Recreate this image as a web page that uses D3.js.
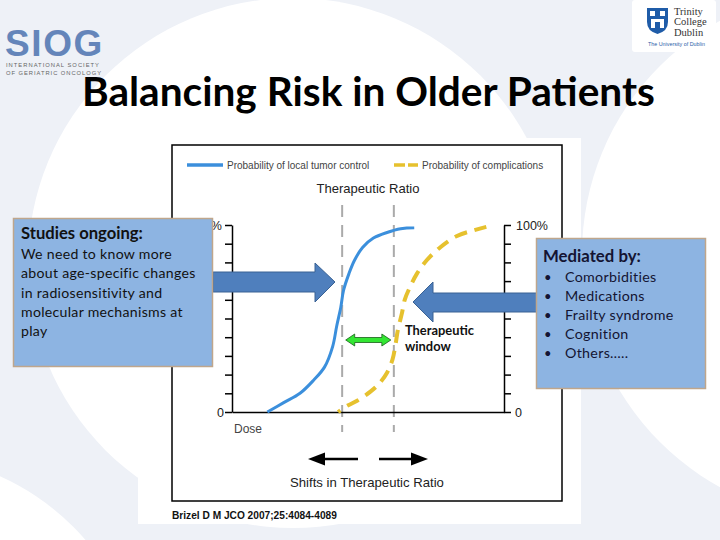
<!DOCTYPE html>
<html lang="en">
<head>
<meta charset="UTF-8">
<title>Balancing Risk in Older Patients</title>
<style>
  body { margin: 0; background: #fff; }
  svg { display: block; }
  .axis path, .axis line { fill: none; stroke: #000; stroke-width: 1.5; }
</style>
</head>
<body>
<script src="https://d3js.org/d3.v7.min.js"></script>
<script>
var W = 720, H = 540;

// dose (relative units 0-100) and probability (%)
var tumorDose = [13, 19, 25, 30, 34, 37, 38.5, 40, 41, 43, 45, 48, 52, 57, 62, 67];
var tumorProb = [0, 5, 10, 17, 24, 35, 46, 56, 65, 74, 81, 88, 93, 96, 98, 98.5];
var compDose = [39, 42, 46, 51, 54, 57, 59, 60, 61, 62.5, 63.5, 65.5, 68, 71.5, 76.5, 82.5, 88.5, 93.5];
var compProb = [0, 3, 6, 11, 15, 21, 28, 35, 44, 53, 60, 67, 74, 81, 88, 94, 97, 99];
var ratioDoses = [40.5, 59.5];
var yTicks = [0, 10, 20, 30, 40, 50, 60, 70, 80, 90, 100];
var seriesNames = ['Probability of local tumor control', 'Probability of complications'];
var leftTitle = 'Studies ongoing:';
var leftLines = ['We need to know more', 'about age-specific changes', 'in radiosensitivity and', 'molecular mechanisms at', 'play'];
var rightTitle = 'Mediated by:';
var rightItems = ['Comorbidities', 'Medications', 'Frailty syndrome', 'Cognition', 'Others\u2026..'];

var svg = d3.select('body').append('svg').attr('width', W).attr('height', H);

// fit a text element to a width by scaling its font size
function fit(sel, w) {
  var len = sel.node().getComputedTextLength();
  var fs = parseFloat(sel.attr('font-size'));
  sel.attr('font-size', fs * w / len);
  return fs * w / len;
}
// fit a text element to a width with letter spacing, keeping its size
function spread(sel, w) {
  var len = sel.node().getComputedTextLength();
  sel.attr('letter-spacing', (w - len) / sel.text().length);
}

// background swooshes
svg.append('rect').attr('width', W).attr('height', H).attr('fill', '#eef1f7');
svg.append('circle').attr('cx', 293).attr('cy', 263).attr('r', 265).attr('fill', '#fff');
svg.append('circle').attr('cx', 848).attr('cy', 254).attr('r', 266).attr('fill', '#fff');
svg.append('circle').attr('cx', -100).attr('cy', 700).attr('r', 245).attr('fill', '#fff');

// SIOG logo
var sg = svg.append('text').attr('x', 5).attr('y', 56).attr('font-family', 'Liberation Sans, Arial').attr('font-weight', 'bold')
  .attr('font-size', 37).attr('fill', '#6485ba').text('SIOG');
spread(sg, 99);
var s1 = svg.append('text').attr('x', 6).attr('y', 66.5).attr('font-family', 'Liberation Sans, Arial')
  .attr('font-size', 5.8).attr('fill', '#666').text('INTERNATIONAL SOCIETY');
spread(s1, 94);
var s2 = svg.append('text').attr('x', 6).attr('y', 74.5).attr('font-family', 'Liberation Sans, Arial')
  .attr('font-size', 5.8).attr('fill', '#666').text('OF GERIATRIC ONCOLOGY');
spread(s2, 96);

// Trinity logo
svg.append('rect').attr('x', 632).attr('y', 0).attr('width', 84).attr('height', 52).attr('rx', 3).attr('fill', '#fff');
svg.append('path').attr('d', 'M647,8 h21 v14 q0,9 -10.5,12 q-10.5,-3 -10.5,-12 z').attr('fill', '#1f5ca8');
svg.append('rect').attr('x', 651).attr('y', 19).attr('width', 13).attr('height', 9).attr('fill', '#fff');
svg.append('rect').attr('x', 655).attr('y', 22).attr('width', 5).attr('height', 6).attr('fill', '#1f5ca8');
svg.append('path').attr('d', 'M650,11 h5 v5 h-5 z M660,11 h5 v5 h-5 z').attr('fill', '#fff');
['Trinity', 'College', 'Dublin'].forEach(function (t, i) {
  svg.append('text').attr('x', 674).attr('y', 15 + i * 10.3).attr('font-family', 'Liberation Serif, serif')
    .attr('font-size', 10.5).attr('fill', '#333').text(t);
});
var tu = svg.append('text').attr('x', 648).attr('y', 46).attr('font-family', 'Liberation Sans, Arial')
  .attr('font-size', 5).attr('fill', '#2a5da8').text('The University of Dublin');
fit(tu, 57);

// title
var title = svg.append('text').attr('x', 82).attr('y', 106).attr('font-family', 'Lato, Open Sans, sans-serif')
  .attr('font-weight', 'bold').attr('font-size', 40).attr('fill', '#000').text('Balancing Risk in Older Patients');
fit(title, 573);

// chart panel
svg.append('rect').attr('x', 138).attr('y', 138).attr('width', 443).attr('height', 386).attr('fill', '#fff');
svg.append('rect').attr('x', 172).attr('y', 145).attr('width', 390).attr('height', 356)
  .attr('fill', 'none').attr('stroke', '#000').attr('stroke-width', 1.5);

var x = d3.scaleLinear().domain([0, 100]).range([232, 504]);
var y = d3.scaleLinear().domain([0, 100]).range([412, 225]);

var ARIAL = 'Liberation Sans, Arial, sans-serif';

// legend
svg.append('line').attr('x1', 187).attr('x2', 223).attr('y1', 165).attr('y2', 165)
  .attr('stroke', '#3b8fdc').attr('stroke-width', 3.5);
svg.append('text').attr('x', 227).attr('y', 169).attr('font-family', ARIAL).attr('font-size', 10)
  .attr('fill', '#444').text(seriesNames[0]);
svg.append('line').attr('x1', 394).attr('x2', 418).attr('y1', 165).attr('y2', 165)
  .attr('stroke', '#e6c12e').attr('stroke-width', 3.5).attr('stroke-dasharray', '11,3');
svg.append('text').attr('x', 422).attr('y', 169).attr('font-family', ARIAL).attr('font-size', 10)
  .attr('fill', '#444').text(seriesNames[1]);

var tr = svg.append('text').attr('x', 368).attr('y', 193).attr('text-anchor', 'middle').attr('font-family', ARIAL)
  .attr('font-size', 12.5).attr('fill', '#222').text('Therapeutic Ratio');
fit(tr, 103);

// dashed therapeutic-ratio markers
svg.selectAll('.ratio').data(ratioDoses).enter().append('line').attr('class', 'ratio')
  .attr('x1', function (d) { return x(d); }).attr('x2', function (d) { return x(d); })
  .attr('y1', 205).attr('y2', 432)
  .attr('stroke', '#aaa').attr('stroke-width', 2).attr('stroke-dasharray', '12,8');

// axes
svg.append('g').attr('class', 'axis').attr('transform', 'translate(' + x(0) + ',0)')
  .call(d3.axisLeft(y).tickValues(yTicks).tickSize(7).tickSizeOuter(0).tickFormat(''));
svg.append('g').attr('class', 'axis').attr('transform', 'translate(' + x(100) + ',0)')
  .call(d3.axisRight(y).tickValues(yTicks).tickSize(7).tickSizeOuter(0).tickFormat(''));
svg.append('g').attr('class', 'axis').attr('transform', 'translate(0,' + y(0) + ')')
  .call(d3.axisBottom(x).tickValues([]).tickSizeOuter(0));

function lab(xp, yp, t, anchor) {
  svg.append('text').attr('x', xp).attr('y', yp).attr('text-anchor', anchor || 'start')
    .attr('font-family', ARIAL).attr('font-size', 12.5).attr('fill', '#222').text(t);
}
lab(x(0) - 8, y(0) + 5, '0', 'end');
lab(x(0) - 10, y(100) + 5, '100%', 'end');
lab(x(100) + 11, y(0) + 5, '0');
lab(x(100) + 12, y(100) + 5, '100%');
svg.append('text').attr('x', 234).attr('y', 433).attr('font-family', ARIAL).attr('font-size', 12)
  .attr('fill', '#444').text('Dose');

// curves
var line = d3.line().x(function (d) { return x(d[0]); }).y(function (d) { return y(d[1]); })
  .curve(d3.curveCatmullRom.alpha(0.5));
svg.append('path').datum(d3.zip(tumorDose, tumorProb)).attr('d', line)
  .attr('fill', 'none').attr('stroke', '#3b8fdc').attr('stroke-width', 3);
svg.append('path').datum(d3.zip(compDose, compProb)).attr('d', line)
  .attr('fill', 'none').attr('stroke', '#e6c12e').attr('stroke-width', 4)
  .attr('stroke-dasharray', '13,8').attr('stroke-dashoffset', 10);

// therapeutic window arrow
var wy = y(38.5), wl = x(41.8), wr = x(58.4);
svg.append('path')
  .attr('d', 'M' + wl + ',' + wy + ' l9,-6 v3.5 H' + (wr - 9) + ' v-3.5 l9,6 l-9,6 v-3.5 H' + (wl + 9) + ' v3.5 z')
  .attr('fill', '#33e633').attr('stroke', '#1b5e1b').attr('stroke-width', 0.8);
var MB = 'Lato, Open Sans, sans-serif';
var tw1 = svg.append('text').attr('x', 405).attr('y', 335).attr('font-family', MB).attr('font-weight', 'bold')
  .attr('font-size', 12.5).attr('fill', '#111').text('Therapeutic');
fit(tw1, 69);
svg.append('text').attr('x', 405).attr('y', 351).attr('font-family', MB).attr('font-weight', 'bold')
  .attr('font-size', tw1.attr('font-size')).attr('fill', '#111').text('window');

// shifts arrows
svg.append('line').attr('x1', 358).attr('x2', 322).attr('y1', 459).attr('y2', 459).attr('stroke', '#000').attr('stroke-width', 2.5);
svg.append('path').attr('d', 'M308,459 L325,452.5 L325,465.5 Z').attr('fill', '#000');
svg.append('line').attr('x1', 379).attr('x2', 414).attr('y1', 459).attr('y2', 459).attr('stroke', '#000').attr('stroke-width', 2.5);
svg.append('path').attr('d', 'M428,459 L411,452.5 L411,465.5 Z').attr('fill', '#000');
var sh = svg.append('text').attr('x', 367).attr('y', 487).attr('text-anchor', 'middle').attr('font-family', ARIAL)
  .attr('font-size', 12.5).attr('fill', '#222').text('Shifts in Therapeutic Ratio');
fit(sh, 154);

var cit = svg.append('text').attr('x', 172).attr('y', 519).attr('font-family', ARIAL).attr('font-weight', 'bold')
  .attr('font-size', 10).attr('fill', '#111').text('Brizel D M JCO 2007;25:4084-4089');
fit(cit, 165);

// block arrows
svg.append('path').attr('d', 'M213,272 H315 V263 L335,282 L315,302 V292 H213 Z')
  .attr('fill', '#4f7fbd').attr('stroke', '#3a6294').attr('stroke-width', 1);
svg.append('path').attr('d', 'M537,293 H433 V282 L413,302 L433,322 V312 H537 Z')
  .attr('fill', '#4f7fbd').attr('stroke', '#3a6294').attr('stroke-width', 1);

// note boxes
svg.append('rect').attr('x', 13.5).attr('y', 218.5).attr('width', 199).attr('height', 148)
  .attr('fill', '#8db4e2').attr('stroke', '#bfa68c').attr('stroke-width', 1.5);
var lt = svg.append('text').attr('x', 21).attr('y', 239).attr('font-family', MB).attr('font-weight', 'bold')
  .attr('font-size', 14).attr('fill', '#111').text(leftTitle);
fit(lt, 122);
var body = svg.append('g');
body.selectAll('text').data(leftLines).enter().append('text')
  .attr('x', 21).attr('y', function (d, i) { return 259 + i * 19.3; })
  .attr('font-family', MB).attr('font-size', 13.5).attr('fill', '#111').attr('letter-spacing', 0.3)
  .text(function (d) { return d; });
var ref = body.selectAll('text').filter(function (d, i) { return i === 1; });
var fsb = parseFloat(ref.attr('font-size')) * 175 / ref.node().getComputedTextLength();
body.selectAll('text').attr('font-size', fsb);

svg.append('rect').attr('x', 536.5).attr('y', 238.5).attr('width', 169).attr('height', 150)
  .attr('fill', '#8db4e2').attr('stroke', '#bfa68c').attr('stroke-width', 1.5);
var rt = svg.append('text').attr('x', 543).attr('y', 262).attr('font-family', MB).attr('font-weight', 'bold')
  .attr('font-size', 14).attr('fill', '#141433').text(rightTitle);
fit(rt, 98);
var items = svg.append('g');
var rows = items.selectAll('g').data(rightItems).enter().append('g')
  .attr('transform', function (d, i) { return 'translate(0,' + (282 + i * 19) + ')'; });
rows.append('text').attr('x', 544).attr('font-family', MB).attr('font-size', 13).attr('fill', '#141433').text('\u2022');
rows.append('text').attr('class', 'it').attr('x', 565).attr('font-family', MB).attr('font-size', 13.5)
  .attr('fill', '#141433').attr('letter-spacing', 0.3).text(function (d) { return d; });
var ref2 = items.selectAll('.it').filter(function (d, i) { return i === 2; });
var fsr = parseFloat(ref2.attr('font-size')) * 109 / ref2.node().getComputedTextLength();
items.selectAll('.it').attr('font-size', fsr);
</script>
</body>
</html>
